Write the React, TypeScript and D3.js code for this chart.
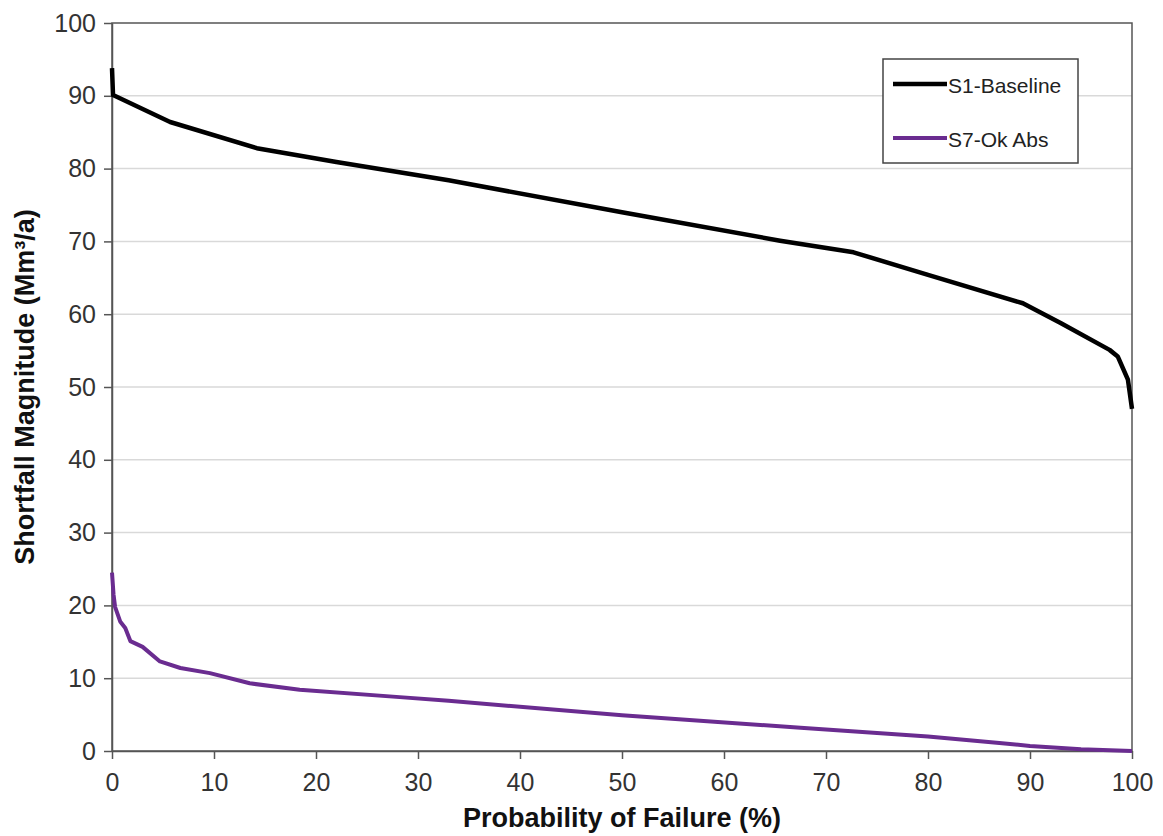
import React, { useEffect, useRef } from "react";
import * as d3 from "d3";

const baselineX = [0, 0.1, 5.7, 14.2, 22, 33, 50, 65.5, 72.7, 80, 89.3, 93, 97.8, 98.6, 99.6, 100];
const baselineY = [93.8, 90.1, 86.4, 82.8, 80.9, 78.4, 74, 70.1, 68.5, 65.4, 61.5, 58.8, 55.1, 54.2, 51, 47];

const okAbsX = [0, 0.15, 0.3, 0.8, 1.3, 1.8, 3.0, 4.7, 6.7, 9.6, 13.5, 18.4, 28.2, 33, 50, 67.5, 80, 87, 90, 95, 100];
const okAbsY = [24.5, 21.5, 19.8, 17.8, 16.9, 15.1, 14.3, 12.3, 11.4, 10.7, 9.3, 8.4, 7.4, 6.9, 4.9, 3.2, 2.0, 1.1, 0.7, 0.25, 0];

const seriesNames = ["S1-Baseline", "S7-Ok Abs"];
const seriesColors = ["#000000", "#6a2c90"];
const xTicks = [0, 10, 20, 30, 40, 50, 60, 70, 80, 90, 100];
const yTicks = [0, 10, 20, 30, 40, 50, 60, 70, 80, 90, 100];

const App = () => {
  const chartRef = useRef<HTMLDivElement>(null);

  useEffect(() => {
    const container = d3.select(chartRef.current);
    container.selectAll("*").remove();

    const width = 1163;
    const height = 836;
    const margin = { top: 23, right: 31, bottom: 85, left: 112 };

    const svg = container
      .append("svg")
      .attr("width", width)
      .attr("height", height)
      .style("position", "absolute")
      .style("left", "0px")
      .style("top", "0px")
      .style("background", "#fff")
      .style("font-family", "Arial, 'Liberation Sans', sans-serif");

    const x = d3.scaleLinear().domain([0, 100]).range([margin.left, width - margin.right]);
    const y = d3.scaleLinear().domain([0, 100]).range([height - margin.bottom, margin.top]);

    // gridlines
    svg
      .append("g")
      .selectAll("line")
      .data(yTicks.slice(1, -1))
      .enter()
      .append("line")
      .attr("x1", margin.left)
      .attr("x2", width - margin.right)
      .attr("y1", (d) => y(d))
      .attr("y2", (d) => y(d))
      .attr("stroke", "#d9d9d9")
      .attr("stroke-width", 1.5);

    // plot frame
    svg
      .append("rect")
      .attr("x", margin.left)
      .attr("y", margin.top)
      .attr("width", width - margin.left - margin.right)
      .attr("height", height - margin.top - margin.bottom)
      .attr("fill", "none")
      .attr("stroke", "#555")
      .attr("stroke-width", 1.5);

    const xAxis = svg
      .append("g")
      .attr("transform", `translate(0, ${height - margin.bottom})`)
      .call(d3.axisBottom(x).tickValues(xTicks).tickSize(8).tickPadding(14).tickSizeOuter(0));
    const yAxis = svg
      .append("g")
      .attr("transform", `translate(${margin.left}, 0)`)
      .call(d3.axisLeft(y).tickValues(yTicks).tickSize(8).tickPadding(8).tickSizeOuter(0));

    [xAxis, yAxis].forEach((g) => {
      g.select(".domain").attr("stroke", "#555").attr("stroke-width", 1.5);
      g.selectAll(".tick line").attr("stroke", "#555").attr("stroke-width", 1.5);
      g.selectAll(".tick text")
        .attr("fill", "#333")
        .style("font-size", "25px")
        .style("font-family", "Arial, 'Liberation Sans', sans-serif");
    });

    const line = d3
      .line<[number, number]>()
      .x((d) => x(d[0]))
      .y((d) => y(d[1]));

    const series: [number, number][][] = [
      baselineX.map((v, i) => [v, baselineY[i]]),
      okAbsX.map((v, i) => [v, okAbsY[i]]),
    ];

    series.forEach((pts, i) => {
      svg
        .append("path")
        .datum(pts)
        .attr("d", line)
        .attr("fill", "none")
        .attr("stroke", seriesColors[i])
        .attr("stroke-width", i === 0 ? 4.5 : 4)
        .attr("stroke-linejoin", "round");
    });

    // axis titles
    svg
      .append("text")
      .attr("x", (margin.left + width - margin.right) / 2)
      .attr("y", 827)
      .attr("text-anchor", "middle")
      .style("font-size", "27px")
      .style("font-weight", "bold")
      .attr("fill", "#111")
      .text("Probability of Failure (%)");

    svg
      .append("text")
      .attr("transform", `translate(34, ${(margin.top + height - margin.bottom) / 2}) rotate(-90)`)
      .attr("text-anchor", "middle")
      .style("font-size", "27px")
      .style("font-weight", "bold")
      .attr("fill", "#111")
      .text("Shortfall Magnitude (Mm³/a)");

    // legend
    const legend = svg.append("g").attr("transform", "translate(883, 59)");
    legend
      .append("rect")
      .attr("width", 195)
      .attr("height", 104)
      .attr("fill", "#fff")
      .attr("stroke", "#444")
      .attr("stroke-width", 1.5);

    seriesNames.forEach((name, i) => {
      const ly = 25 + i * 54;
      legend
        .append("line")
        .attr("x1", 10)
        .attr("x2", 64)
        .attr("y1", ly)
        .attr("y2", ly)
        .attr("stroke", seriesColors[i])
        .attr("stroke-width", i === 0 ? 4.5 : 4);
      legend
        .append("text")
        .attr("x", 65)
        .attr("y", ly + 9)
        .style("font-size", "21px")
        .attr("fill", "#222")
        .text(name);
    });
  }, []);

  return <div ref={chartRef}></div>;
};

export default App;
